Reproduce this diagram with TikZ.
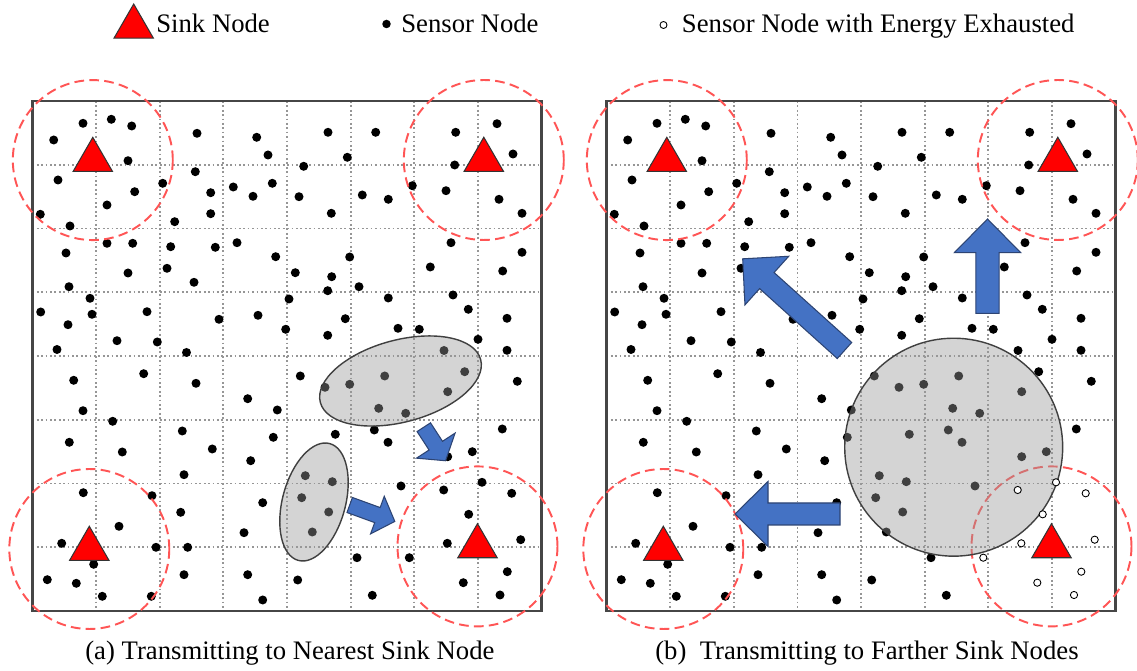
\documentclass[tikz,border=0pt]{standalone}
\usepackage{fontspec}
\setmainfont{Liberation Serif}
\usetikzlibrary{shapes.geometric}

\definecolor{sinkred}{RGB}{255,0,0}
\definecolor{rangered}{RGB}{255,85,85}
\definecolor{flowblue}{RGB}{68,114,196}
\definecolor{flowedge}{RGB}{45,68,115}
\definecolor{gridgray}{RGB}{150,150,150}
\definecolor{framegray}{RGB}{70,70,70}

\tikzset{
  sinknode/.style={regular polygon, regular polygon sides=3, minimum size=0.91cm, inner sep=0pt,
    fill=sinkred, draw=black!80, line width=0.6pt},
  sinkrange/.style={circle, minimum size=3.2cm, inner sep=0pt, draw=rangered, line width=1.1pt,
    dash pattern=on 5.5pt off 3pt},
  gridline/.style={draw=gridgray, line width=1pt, dash pattern=on 1pt off 1.5pt},
  panelframe/.style={draw=framegray, line width=1.3pt},
  sensordot/.style={fill=black},
  deadsensor/.style={fill=white, draw=black, line width=0.5pt},
  clusterarea/.style={draw=black!75, line width=0.8pt, fill=black!40, fill opacity=0.42, inner sep=0pt},
  flowarrow/.style={fill=flowblue, draw=flowedge, line width=0.6pt, line join=miter},
  legtext/.style={font=\fontsize{15.2}{18}\selectfont, inner sep=0pt, anchor=base west},
}

% sensor positions of the deployment (pixel units, left field)
\newcommand\sensorlist{83/123.3, 111.3/119.3, 131.7/126, 53.7/140, 128/160.7, 58/180,
  134.7/191.7, 107/205, 40.3/214.3, 70/226, 197/133.3, 256.7/137.3, 268/155, 195.3/171.7,
  162.7/183.3, 210.7/192.7, 233.3/187, 253/196.3, 272.3/183.3, 210.7/213.7, 174.7/221.7,
  107/243.3, 132.7/243.3, 170.7/246.7, 215.3/247.3, 237/242.7, 275.7/256.7, 66/253, 128/273,
  167/268.3, 194/282.3, 69/286.7, 90/298.3, 40.7/312, 92/314.3, 147/311.7, 68/324.7,
  219/319.3, 258/315.3, 117/340.7, 157.3/342, 57/349.5, 186.5/352.5,
  328/132.3, 375.7/132.3, 455.7/132.3, 497/123.7, 513/154, 347.3/157.3, 303.7/166.3,
  454.7/165, 299/196.7, 362.3/195, 388.3/199.3, 412.3/185.7, 446/190.7, 499/199.3,
  522/213.3, 331.3/213.3, 451/242.7, 522/252.3, 349.7/257, 295.3/272.7, 331.7/276.7,
  430.3/267, 502.7/271, 327.7/290.7, 359/286.7, 289/299, 388.3/298, 453/295, 468.3/309.3,
  345.3/318.7, 507/318.3, 285.7/329.3, 327.7/335.3, 398/328.3, 419.3/329.3, 478/339.3,
  507/350.3, 444/350.5,
  73.7/380.3, 143.7/373.7, 196/383.3, 247.7/398.7, 277.3/410, 83/410.7, 112.7/421.3,
  69.3/442.3, 122.3/452, 182.3/431, 212.3/449, 273.3/437.3, 250.7/460.7, 184/474.7,
  83.3/492.7, 152/495.7, 119/526.3, 180.7/512.3, 262.7/502.7, 244/532.7, 61.7/543.3,
  156/547.3, 187.7/547.3, 93.7/564.3, 47.3/579.7, 76.3/583.3, 184/574.7, 247.7/574.7,
  102.3/596.3, 151.3/596.3, 262.7/600,
  300.3/376, 325/387.3, 349.7/384.3, 384.7/376, 464.7/371.7, 447.7/391.7, 378.7/408.3,
  405.7/413.3, 517.3/381.3, 335.3/434.3, 374.3/430, 388/442.3, 502.3/429, 447.7/456.7,
  472.3/451.7, 305.3/475.7, 332.3/481.7, 301.7/497.7, 328.7/512, 312.3/532, 401/486,
  443.7/490, 482/482.3, 511.7/493.3, 468.7/514.3, 447.3/543.3, 520.7/539.7, 357/557.7,
  409.3/557.7, 297.7/580, 507.3/571.7, 463.3/582.7, 372.3/595.3, 500/595}

% dotted cell grid and outer frame of one field
\newcommand\fieldgrid{%
  \foreach \k in {1,...,7}{
    \draw[gridline] ({32.5+63.625*\k},101) -- ({32.5+63.625*\k},611);
    \draw[gridline] (32.5,{101+63.75*\k}) -- (541.5,{101+63.75*\k});
  }
  \draw[panelframe] (32.5,101) rectangle (541.5,611);
}

% sink nodes with their dashed ranges; #1 = name prefix
\newcommand\sinks[1]{%
  \foreach \sx/\sy/\sn in {92.8/160.1/tl, 483.8/160/tr, 89.3/549/bl, 477.5/546.4/br}{
    \node[sinkrange] (#1range\sn) at (\sx,\sy) {};
    \node[sinknode] (#1sink\sn) at (\sx,\sy) {};
  }
}

% block arrow: tail point, direction, length, shaft half-width, head half-width, head length
\newcommand\blockarrow[6]{%
  \begin{scope}[shift={(#1)}, rotate=#2]
    \draw[flowarrow] (0,-#4) -- ({#3-#6},-#4) -- ({#3-#6},-#5) -- (#3,0)
      -- ({#3-#6},#5) -- ({#3-#6},#4) -- (0,#4) -- cycle;
  \end{scope}}

\begin{document}
\begin{tikzpicture}[x=0.02cm, y=-0.02cm]
\fill[white] (0,0) rectangle (1137,671);
\useasboundingbox (0,0) rectangle (1137,671);

% legend
\node[sinknode] (legsink) at (133.7,26.8) {};
\node[legtext] (legsinktxt) at (156,32.5) {Sink Node};
\node[circle, fill=black, minimum size=0.17cm, inner sep=0pt] (legdot) at (386.5,24) {};
\node[legtext] (legdottxt) at (401,32.5) {Sensor Node};
\node[circle, fill=white, draw=black, line width=0.5pt, minimum size=0.14cm, inner sep=0pt] (legdead) at (663.5,25) {};
\node[legtext] (legdeadtxt) at (681.6,32.5) {Sensor Node with Energy Exhausted};

% (a) transmitting to the nearest sink node
\fieldgrid
\foreach \x/\y in \sensorlist {\fill[sensordot] (\x,\y) circle[radius=0.09cm];}
\sinks{a}
\node[clusterarea, ellipse, minimum width=3.32cm, minimum height=1.64cm, rotate=15] (areaA) at (400.5,381) {};
\node[clusterarea, ellipse, minimum width=2.42cm, minimum height=1.26cm, rotate=75] (areaB) at (314,502) {};
\blockarrow{423.8,427.2}{-57}{40}{8}{23}{18}
\blockarrow{349.7,505}{-20}{48}{8}{20}{18.5}
\node[legtext] (capa) at (85,660) {(a) Transmitting to Nearest Sink Node};

% (b) transmitting to farther sink nodes
\begin{scope}[shift={(574,0)}]
  \fieldgrid
  \foreach \x/\y in \sensorlist {
    \pgfmathtruncatemacro\dead{veclen(\x-477.5,\y-546.4)<80}
    \ifnum\dead=0 \fill[sensordot] (\x,\y) circle[radius=0.09cm];\fi
  }
  \sinks{b}
  \node[clusterarea, circle, minimum size=4.36cm] (hotspot) at (379.7,447.2) {};
  \foreach \x/\y in \sensorlist {
    \pgfmathtruncatemacro\dead{veclen(\x-477.5,\y-546.4)<80}
    \ifnum\dead=1 \draw[deadsensor] (\x,\y) circle[radius=0.072cm];\fi
  }
\end{scope}
\blockarrow{844.5,350.5}{138}{137}{10.8}{32.7}{32.5}
\blockarrow{987.5,313.3}{90}{94.3}{11.6}{33.2}{33.7}
\blockarrow{840,514}{180}{105}{11}{32.5}{33}
\node[legtext] (capb) at (655,660) {(b)~ Transmitting to Farther Sink Nodes};
\end{tikzpicture}
\end{document}
